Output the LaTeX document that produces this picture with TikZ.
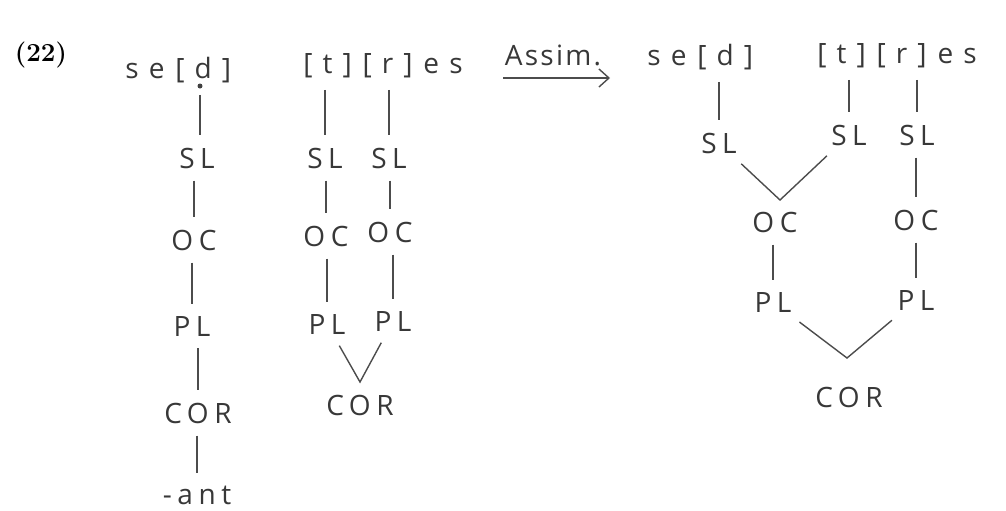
\documentclass[tikz,border=0pt]{standalone}
\usepackage{fontspec}
\newfontfamily\hand[LetterSpace=20]{Open Sans}
\newfontfamily\handw[LetterSpace=36]{Open Sans}
\newfontfamily\handa[LetterSpace=8]{Open Sans}
\usetikzlibrary{arrows.meta}
\begin{document}
\begin{tikzpicture}[x=0.5pt,y=-0.5pt,
  lab/.style={font=\hand\fontsize{14}{14}\selectfont, text=black!78, inner sep=3pt},
  wrd/.style={lab, font=\handw\fontsize{14}{14}\selectfont, inner xsep=0pt, anchor=base west},
  nxt/.style={wrd, xshift=5pt},
  ln/.style={draw=black!70, line width=0.7pt, shorten <=3pt, shorten >=3pt}]
  \useasboundingbox (0,0) rectangle (1006,510);
  \node[font=\bfseries\fontsize{13}{15}\selectfont] (num) at (41,55) {(22)};
  % before
  \node[wrd] (seA) at (125,78) {se};
  \node[nxt] (dA) at (seA.base east) {[d]};
  \node[circle, fill=black!75, inner sep=0pt, minimum size=2.5pt] (dotA) at (200,86) {};
  \node[lab] (slA) at (197,158) {SL};
  \node[lab] (ocA) at (194,240) {OC};
  \node[lab] (plA) at (192,326) {PL};
  \node[lab] (corA) at (198,413) {COR};
  \node[lab] (antA) at (197,495) {-ant};
  \draw[ln] (dotA) -- (dotA |- slA.north);
  \draw[ln] (slA.south -| ocA) -- (ocA.north);
  \draw[ln] (ocA.south -| plA) -- (plA.north);
  \draw[ln] (plA.south -| corA) -- (corA.north);
  \draw[ln] (corA.south -| antA) -- (antA.north);
  \node[wrd] (tB) at (303,73) {[t]};
  \node[nxt] (rB) at (tB.base east) {[r]};
  \node[nxt] (esB) at (rB.base east) {es};
  \node[lab] (slB1) at (325,158) {SL};
  \node[lab] (slB2) at (389,158) {SL};
  \node[lab] (ocB1) at (326,236) {OC};
  \node[lab] (ocB2) at (390,232) {OC};
  \node[lab] (plB1) at (327,324) {PL};
  \node[lab] (plB2) at (393,321) {PL};
  \node[lab] (corB) at (360,405) {COR};
  \coordinate (vB) at (360,382);
  \draw[ln] (tB.south -| slB1) -- (slB1.north);
  \draw[ln] (rB.south -| slB2) -- (slB2.north);
  \draw[ln] (slB1.south -| ocB1) -- (ocB1.north);
  \draw[ln] (slB2.south -| ocB2) -- (ocB2.north);
  \draw[ln] (ocB1.south -| plB1) -- (plB1.north);
  \draw[ln] (ocB2.south -| plB2) -- (plB2.north);
  \draw[ln] (plB1) -- (vB) -- (plB2);
  % rule
  \node[lab, font=\handa\fontsize{14}{14}\selectfont] (assim) at (553,55) {Assim.};
  \coordinate (arrS) at (503,78);
  \coordinate (arrE) at (610,78);
  \draw[draw=black!70, line width=0.7pt, -{Straight Barb[length=5pt,width=9pt]}] (arrS) -- (arrE);
  % after
  \node[wrd] (seC) at (647,65) {se};
  \node[nxt] (dC) at (seC.base east) {[d]};
  \node[wrd] (tC) at (817,63) {[t]};
  \node[nxt] (rC) at (tC.base east) {[r]};
  \node[nxt] (esC) at (rC.base east) {es};
  \node[lab] (slC1) at (719,143) {SL};
  \node[lab] (slC2) at (849,135) {SL};
  \node[lab] (slC3) at (917,135) {SL};
  \node[lab] (ocC1) at (775,222) {OC};
  \node[lab] (ocC2) at (916,220) {OC};
  \node[lab] (plC1) at (773,302) {PL};
  \node[lab] (plC2) at (916,300) {PL};
  \node[lab] (corC) at (849,397) {COR};
  \coordinate (vC1) at (780,200);
  \coordinate (vC2) at (847,358);
  \draw[ln] (dC.south -| slC1) -- (slC1.north);
  \draw[ln] (tC.south -| slC2) -- (slC2.north);
  \draw[ln] (rC.south -| slC3) -- (slC3.north);
  \draw[ln] (slC1) -- (vC1) -- (slC2);
  \draw[ln] (slC3.south -| ocC2) -- (ocC2.north);
  \draw[ln] (ocC1.south -| plC1) -- (plC1.north);
  \draw[ln] (ocC2.south -| plC2) -- (plC2.north);
  \draw[ln] (plC1) -- (vC2) -- (plC2);
\end{tikzpicture}
\end{document}
